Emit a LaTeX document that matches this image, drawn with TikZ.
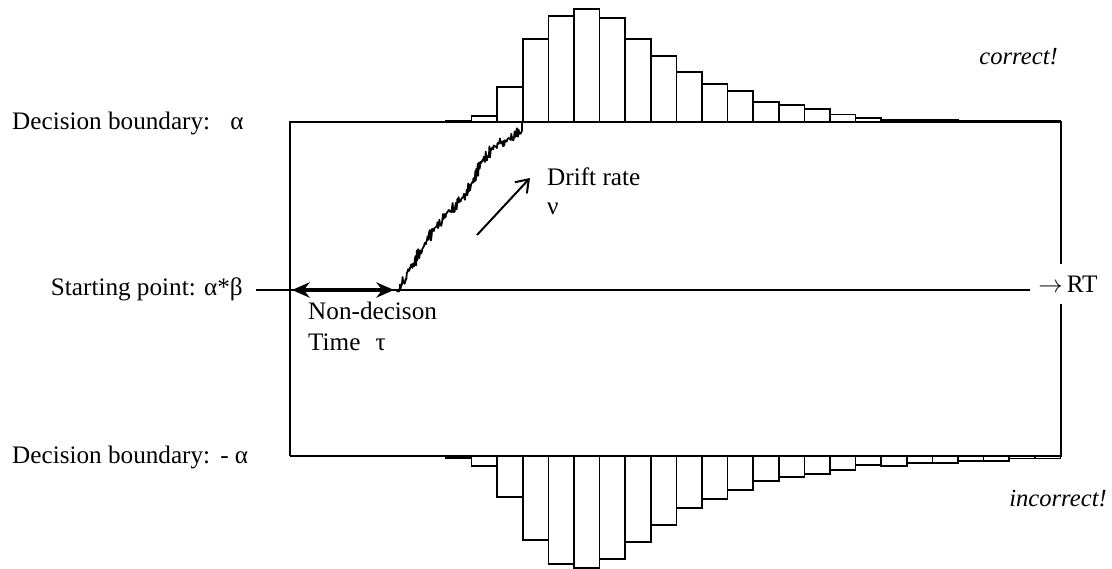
\documentclass[tikz,border=0pt]{standalone}
\usepackage{fontspec}
\setmainfont{Liberation Serif}
\usetikzlibrary{arrows.meta}

\tikzset{
  lbl/.style={font=\fontsize{21.5}{25}\selectfont, inner sep=0pt},
  ilbl/.style={lbl, font=\fontsize{21}{25}\selectfont\itshape},
  hbar/.style={draw=black, line width=1.3pt, fill=white},
  bline/.style={line width=1.3pt},
  walk/.style={line width=1.5pt, line join=round},
}

\begin{document}
\begin{tikzpicture}[x=0.03cm, y=-0.03cm]
  \useasboundingbox (0,0) rectangle (1112,569);

  % Box corners
  \coordinate (tl) at (290,122);
  \coordinate (tr) at (1061,122);
  \coordinate (bl) at (290,456);
  \coordinate (br) at (1061,456);

  % Labels (left)
  \node[lbl, anchor=base west] (bndtop) at (12,130) {Decision boundary:\hspace{0.8em}α};
  \node[lbl, anchor=base west] (bndbot) at (12,463) {Decision boundary:\hspace{0.4em}- α};
  \node[lbl, anchor=base east] (start) at (243,296) {Starting point: α*β};
  \coordinate (s0) at (256,290);
  \coordinate (s1) at (1030,290);

  % RT label on the right edge
  \node[lbl, anchor=west, inner ysep=10pt, inner xsep=1pt] (rt) at (1037,284) {$\rightarrow$\,RT};

  % Boundaries and starting line
  \draw[bline] (bl) -- (tl) -- (tr) -- (tr |- rt.north);
  \draw[bline] (br |- rt.south) -- (br) -- (bl);
  \draw[line width=1.2pt] (s0) -- (s1);

  % Histogram: correct responses
  \foreach \h [count=\i from 0] in {1,6,35,83,106,113,104,83,66,50,38,31,20,17,13,7.5,4,2,2,2,1,1,1,1}
    \draw[hbar] ({446+25.6*\i},122) rectangle ({446+25.6*(\i+1)},{122-\h});

  % Histogram: incorrect responses
  \foreach \h [count=\i from 0] in {2,10,41,84,108,112,103,86,69,52,43,34,25,21,18,14,9,10,7,7,5,5,2.7,2.7}
    \draw[hbar] ({446+25.6*\i},456) rectangle ({446+25.6*(\i+1)},{456+\h});

  % Non-decision time
  \coordinate (nd0) at (292,290);
  \coordinate (nd1) at (394,290);
  \draw[line width=2.6pt, {Stealth[length=15pt,width=13pt]}-{Stealth[length=15pt,width=13pt]}] (nd0) -- (nd1);
  \node[lbl, anchor=base west] (ndt) at (308,320) {Non-decison};
  \node[lbl, anchor=base west] (tau) at (308,351) {Time\hspace{0.6em}τ};

  % Diffusion path
  \pgfmathsetseed{7}
  \foreach \xa/\ya/\xb/\yb in {397/292/410/268, 410/268/423/248, 423/248/435/228, 435/228/448/211,
      448/211/462/199, 462/199/472/183, 472/183/482/161, 482/161/495/146, 495/146/508/139,
      508/139/522/131}
    \draw[walk] plot[domain=0:1, samples=22, variable=\t]
      ({\xa+(\xb-\xa)*\t}, {\ya+(\yb-\ya)*\t+7*rand*sin(180*\t)});
  \coordinate (hit) at (522,122);
  \draw[walk] (522,131) -- (hit);

  % Drift rate
  \coordinate (dr0) at (477,235);
  \coordinate (dr1) at (530,178);
  \draw[line width=1.7pt, -{Straight Barb[length=10pt,width=14pt]}] (dr0) -- (dr1);
  \node[lbl, anchor=base west] (drift) at (547,186) {Drift rate};
  \node[lbl, anchor=base west] (nu) at (547,215) {ν};

  % Outcome labels
  \node[ilbl, anchor=base east] (corr) at (1058,65) {correct!};
  \node[ilbl, anchor=base east] (incorr) at (1107,506) {incorrect!};
\end{tikzpicture}
\end{document}
